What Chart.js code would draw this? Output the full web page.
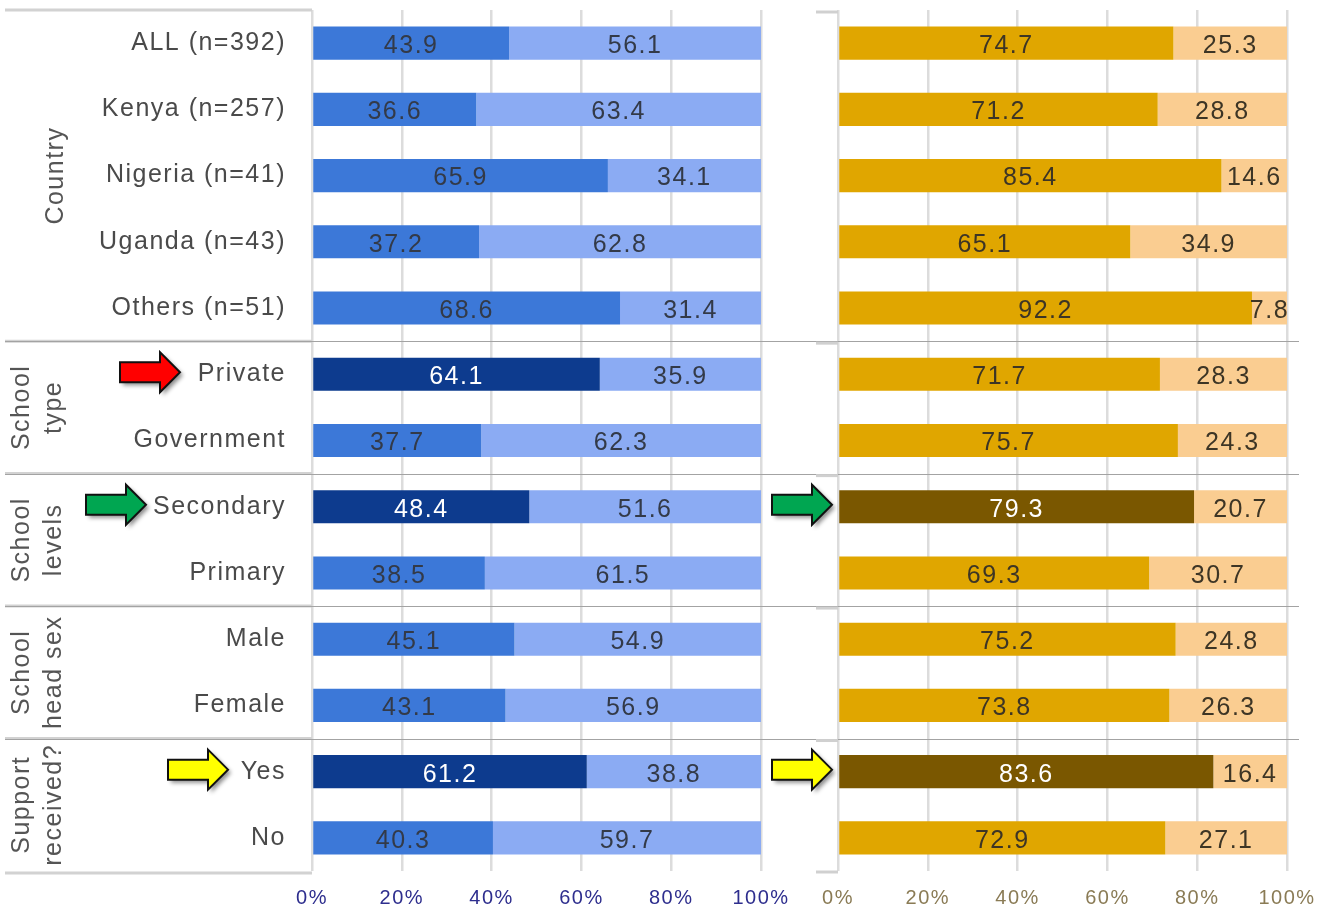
<!DOCTYPE html>
<html lang="en">
<head>
<meta charset="UTF-8">
<title>Results by country, school type, level, head sex and support</title>
<script src="https://cdn.jsdelivr.net/npm/chart.js"></script>
<style>
  html, body { margin: 0; padding: 0; background: #fff; }
  .page { position: relative; width: 1326px; height: 922px; overflow: hidden; }
  #leftChart { position: absolute; left: 0; top: 0; }
  #rightChart { position: absolute; left: 770px; top: 0; }
</style>
</head>
<body>
<div class="page">
  <canvas id="leftChart" width="790" height="922"></canvas>
  <canvas id="rightChart" width="556" height="922"></canvas>
</div>
<script>
// categories and groups
const categories = ['ALL (n=392)', 'Kenya (n=257)', 'Nigeria (n=41)', 'Uganda (n=43)', 'Others (n=51)',
  'Private', 'Government', 'Secondary', 'Primary', 'Male', 'Female', 'Yes', 'No'];
const groupNames = [['Country'], ['School', 'type'], ['School', 'levels'], ['School', 'head sex'], ['Support', 'received?']];
const groupSizes = [5, 2, 2, 2, 2];

// left (blue) panel
const leftFirst  = [43.9, 36.6, 65.9, 37.2, 68.6, 64.1, 37.7, 48.4, 38.5, 45.1, 43.1, 61.2, 40.3];
const leftSecond = [56.1, 63.4, 34.1, 62.8, 31.4, 35.9, 62.3, 51.6, 61.5, 54.9, 56.9, 38.8, 59.7];
const leftHighlight = [5, 7, 11];

// right (gold) panel
const rightFirst  = [74.7, 71.2, 85.4, 65.1, 92.2, 71.7, 75.7, 79.3, 69.3, 75.2, 73.8, 83.6, 72.9];
const rightSecond = [25.3, 28.8, 14.6, 34.9, 7.8, 28.3, 24.3, 20.7, 30.7, 24.8, 26.3, 16.4, 27.1];
const rightHighlight = [7, 11];

const xTicks = [0, 20, 40, 60, 80, 100];

const FONT = '"Liberation Sans", Arial, sans-serif';

// colour per bar, darker where highlighted
function colours(n, hl, normal, strong) {
  return Array.from({length: n}, (_, i) => hl.includes(i) ? strong : normal);
}

// spacing a little wider, like the original
const spacing = {
  id: 'spacing',
  beforeDraw(chart) { chart.ctx.letterSpacing = '1.5px'; }
};

// value written in the middle of each segment
const barLabels = {
  id: 'barLabels',
  afterDatasetsDraw(chart) {
    const ctx = chart.ctx;
    ctx.save();
    ctx.font = '25px ' + FONT;
    ctx.textAlign = 'center';
    ctx.textBaseline = 'middle';
    chart.data.datasets.forEach((ds, di) => {
      chart.getDatasetMeta(di).data.forEach((bar, i) => {
        const p = bar.getProps(['x', 'base', 'y'], true);
        ctx.fillStyle = ds.labelColors[i];
        ctx.fillText(ds.data[i].toFixed(1), (p.x + p.base) / 2, p.y + 3);
      });
    });
    ctx.restore();
  }
};

function drawArrow(ctx, x, y, fill) {
  ctx.save();
  ctx.shadowColor = 'rgba(0,0,0,0.45)';
  ctx.shadowBlur = 4;
  ctx.shadowOffsetX = 3;
  ctx.shadowOffsetY = 3;
  ctx.beginPath();
  ctx.moveTo(x, y - 10);
  ctx.lineTo(x + 40, y - 10);
  ctx.lineTo(x + 40, y - 20);
  ctx.lineTo(x + 60, y);
  ctx.lineTo(x + 40, y + 20);
  ctx.lineTo(x + 40, y + 10);
  ctx.lineTo(x, y + 10);
  ctx.closePath();
  ctx.fillStyle = fill;
  ctx.fill();
  ctx.shadowColor = 'transparent';
  ctx.lineWidth = 2;
  ctx.strokeStyle = '#111';
  ctx.stroke();
  ctx.restore();
}

// group boundaries in pixels
function groupBounds(chart) {
  const y = chart.scales.y;
  const half = (y.getPixelForValue(1) - y.getPixelForValue(0)) / 2;
  const out = [];
  let s = 0;
  groupSizes.forEach(n => {
    out.push({top: y.getPixelForValue(s) - half, bottom: y.getPixelForValue(s + n - 1) + half});
    s += n;
  });
  return out;
}

function separators(ctx, bounds, x0, x1) {
  ctx.save();
  ctx.strokeStyle = '#a3a3a3';
  ctx.lineWidth = 1.2;
  bounds.slice(1).forEach(b => {
    const yy = Math.round(b.top) + 0.5;
    ctx.beginPath();
    ctx.moveTo(x0, yy);
    ctx.lineTo(x1, yy);
    ctx.stroke();
  });
  ctx.restore();
}

const leftDecor = {
  id: 'leftDecor',
  afterDraw(chart) {
    const ctx = chart.ctx;
    const area = chart.chartArea;
    const y = chart.scales.y;
    const bounds = groupBounds(chart);

    // label panel frame
    ctx.save();
    ctx.strokeStyle = '#d2d2d2';
    ctx.lineWidth = 3;
    [area.top, area.bottom + 2].concat(bounds.slice(1).map(b => b.top)).forEach(yy => {
      ctx.beginPath();
      ctx.moveTo(5, yy);
      ctx.lineTo(area.left, yy);
      ctx.stroke();
    });
    ctx.restore();
    separators(ctx, bounds, 5, chart.width);

    // rotated group names
    ctx.save();
    ctx.font = '25px ' + FONT;
    ctx.fillStyle = '#555';
    ctx.textAlign = 'center';
    ctx.textBaseline = 'middle';
    groupNames.forEach((lines, g) => {
      const cy = (bounds[g].top + bounds[g].bottom) / 2;
      const xs = lines.length === 1 ? [56] : [22, 54];
      lines.forEach((t, k) => {
        ctx.save();
        ctx.translate(xs[k], cy);
        ctx.rotate(-Math.PI / 2);
        ctx.fillText(t, 0, 0);
        ctx.restore();
      });
    });
    ctx.restore();

    drawArrow(ctx, 120, y.getPixelForValue(5) - 2, '#ff0000');
    drawArrow(ctx, 86, y.getPixelForValue(7) - 2, '#00a651');
    drawArrow(ctx, 168, y.getPixelForValue(11) - 2, '#ffff00');
  }
};

const rightDecor = {
  id: 'rightDecor',
  afterDraw(chart) {
    const ctx = chart.ctx;
    const area = chart.chartArea;
    const y = chart.scales.y;
    const bounds = groupBounds(chart);
    separators(ctx, bounds, 0, area.right + 12);

    // small bracket ticks at the top of each group and at the very bottom
    ctx.save();
    ctx.strokeStyle = '#d0d0d0';
    ctx.lineWidth = 3;
    bounds.map(b => b.top + 2).concat([area.bottom + 1]).forEach(yy => {
      ctx.beginPath();
      ctx.moveTo(area.left - 22, yy);
      ctx.lineTo(area.left, yy);
      ctx.stroke();
    });
    ctx.restore();

    drawArrow(ctx, 2, y.getPixelForValue(7) - 2, '#00a651');
    drawArrow(ctx, 2, y.getPixelForValue(11) - 2, '#ffff00');
  }
};

function makeOptions(yWidth, padRight, showLabels, tickColour) {
  return {
    indexAxis: 'y',
    responsive: false,
    animation: false,
    layout: { padding: { top: 10, right: padRight, bottom: 0, left: 0 } },
    plugins: { legend: { display: false }, tooltip: { enabled: false } },
    scales: {
      x: {
        stacked: true,
        min: 0,
        max: 100,
        afterBuildTicks: s => { s.ticks = xTicks.map(v => ({ value: v })); },
        afterFit: s => { s.height = 51; s.paddingLeft = 0; s.paddingRight = 0; },
        border: { display: false },
        grid: { color: '#dcdcdc', lineWidth: 2.5, drawTicks: false },
        ticks: {
          padding: 15,
          color: tickColour,
          font: { family: FONT, size: 20 },
          callback: v => v + '%'
        }
      },
      y: {
        stacked: true,
        afterFit: s => { s.width = yWidth; s.paddingTop = 0; s.paddingBottom = 0; },
        border: { display: false },
        grid: { display: false, drawTicks: false },
        ticks: {
          display: showLabels,
          padding: 26,
          color: '#4a4a4a',
          font: { family: FONT, size: 25 }
        }
      }
    }
  };
}

new Chart(document.getElementById('leftChart'), {
  type: 'bar',
  data: {
    labels: categories,
    datasets: [{
      data: leftFirst,
      backgroundColor: colours(categories.length, leftHighlight, '#3c78d8', '#0d3b8e'),
      labelColors: colours(categories.length, leftHighlight, '#333a48', '#ffffff'),
      barPercentage: 0.5,
      categoryPercentage: 1
    }, {
      data: leftSecond,
      backgroundColor: '#8babf3',
      labelColors: colours(categories.length, [], '#333a48', '#333a48'),
      barPercentage: 0.5,
      categoryPercentage: 1
    }]
  },
  options: makeOptions(312, 29, true, '#2e2e8e'),
  plugins: [spacing, barLabels, leftDecor]
});

new Chart(document.getElementById('rightChart'), {
  type: 'bar',
  data: {
    labels: categories,
    datasets: [{
      data: rightFirst,
      backgroundColor: colours(categories.length, rightHighlight, '#e0a600', '#7a5700'),
      labelColors: colours(categories.length, rightHighlight, '#3d3525', '#ffffff'),
      barPercentage: 0.5,
      categoryPercentage: 1
    }, {
      data: rightSecond,
      backgroundColor: '#facd91',
      labelColors: colours(categories.length, [], '#3d3525', '#3d3525'),
      barPercentage: 0.5,
      categoryPercentage: 1
    }]
  },
  options: makeOptions(68, 39, false, '#8a7b55'),
  plugins: [spacing, barLabels, rightDecor]
});
</script>
</body>
</html>
